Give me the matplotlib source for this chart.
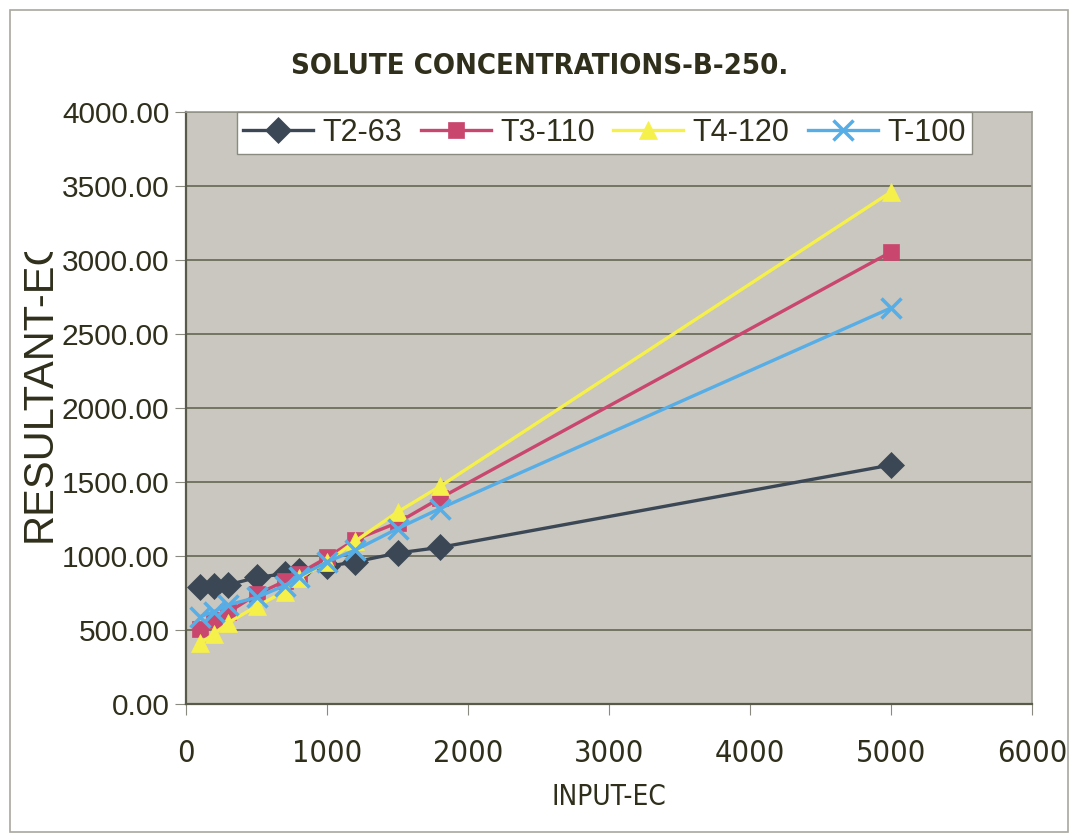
import numpy as np
import matplotlib.pyplot as plt
from matplotlib import font_manager as fm
from matplotlib.patches import Rectangle
from matplotlib.transforms import Bbox

# input EC values (x) and resultant EC for each treatment
input_ec = [100, 200, 300, 500, 700, 800, 1000, 1200, 1500, 1800, 5000]
t2_63 = [790, 800, 805, 855, 880, 900, 930, 960, 1020, 1058, 1615]
t3_110 = [510, 565, 620, 740, 830, 880, 990, 1110, 1225, 1390, 3054]
t4_120 = [410, 475, 550, 660, 760, 850, 960, 1100, 1297, 1470, 3460]
t_100 = [590, 625, 670, 720, 800, 860, 960, 1040, 1185, 1320, 2676]

labels = ['T2-63', 'T3-110', 'T4-120', 'T-100']
colors = ['#3b4755', '#c9476f', '#f6f04a', '#57aee6']
markers = ['D', 's', '^', 'x']
msizes = [13, 11, 13, 14]

txt = '#2f2f1c'
plt.rcParams['font.family'] = ['Liberation Sans', 'DejaVu Sans']

# look for a narrow / condensed face for the squeezed texts
names = {f.name for f in fm.fontManager.ttflist}
narrow = None
for cand in ['Liberation Sans Narrow', 'Arial Narrow']:
    if cand in names:
        narrow = cand
        break
if narrow is None:
    for f in fm.fontManager.ttflist:
        if ('Narrow' in f.name or 'Condensed' in f.name
                or f.stretch in ('condensed', 'semi-condensed')):
            narrow = f.name
            break
true_narrow = narrow in ('Liberation Sans Narrow', 'Arial Narrow')
if narrow:
    nkw = dict(family=[narrow, 'Liberation Sans'], stretch='condensed')
else:
    nkw = dict(family=['Liberation Sans', 'DejaVu Sans'])

fig = plt.figure(figsize=(10.74, 8.39), dpi=100)
fig.patches.append(Rectangle((10 / 1074, 7 / 839), 1058 / 1074, 822 / 839,
                             transform=fig.transFigure, fill=False,
                             edgecolor='#a8a8a0', linewidth=1.2))

ax = fig.add_axes([186 / 1074, 135 / 839, 846 / 1074, 592 / 839])
ax.set_facecolor('#c9c7bf')

series = [t2_63, t3_110, t4_120, t_100]
for ys, lab, c, m, ms in zip(series, labels, colors, markers, msizes):
    ax.plot(input_ec, ys, color=c, marker=m, markersize=ms, linewidth=2.4,
            markeredgewidth=2.5 if m == 'x' else 0.5, markeredgecolor=c,
            label=lab)

ax.set_xlim(0, 6000)
ax.set_ylim(0, 4000)
ax.set_xticks(np.arange(0, 6001, 1000))
ax.set_yticks(np.arange(0, 4001, 500))
ax.set_yticklabels(['%.2f' % v for v in np.arange(0, 4001, 500)])
ax.yaxis.grid(True, color='#6e6e5c', linewidth=1.3)
ax.set_axisbelow(True)

for s in ['top', 'right']:
    ax.spines[s].set_color('#9a9a90')
    ax.spines[s].set_linewidth(1.2)
for s in ['left', 'bottom']:
    ax.spines[s].set_color('#5a5a4a')
    ax.spines[s].set_linewidth(1.6)

ax.tick_params(axis='y', labelsize=21.5, colors='#8a8a80', labelcolor=txt,
               length=8, pad=4)
ax.tick_params(axis='x', colors='#8a8a80', labelcolor=txt,
               length=8, pad=17)
for t in ax.get_xticklabels():
    t.set(**nkw)
    t.set_fontsize(24 if true_narrow else 22)

ax.set_xlabel('INPUT-EC', fontsize=22 if true_narrow else 20,
              color=txt, labelpad=11, **nkw)

ylab = fig.text(40 / 1074, 452 / 839, 'RESULTANT-EC', rotation=90,
                fontsize=30, color=txt, ha='center', va='center')
ylab.set_clip_box(Bbox.from_extents(0, 0, 1074, 839 - 252))
ylab.set_clip_on(True)

fig.text(540 / 1074, 773 / 839, 'SOLUTE CONCENTRATIONS-B-250.',
         fontsize=25 if true_narrow else 21, fontweight='bold', color=txt,
         ha='center', va='center', **nkw)

leg = ax.legend(loc='upper left', bbox_to_anchor=(51 / 846, 1.0), ncol=4,
                fontsize=22, frameon=True, fancybox=False,
                handlelength=2.3, handletextpad=0.3, columnspacing=0.6,
                borderpad=0.2, borderaxespad=0.0)
leg.get_frame().set_facecolor('white')
leg.get_frame().set_edgecolor('#8a8a80')
leg.get_frame().set_alpha(1)
for t in leg.get_texts():
    t.set_color(txt)

fig.savefig('out.png', dpi=100)
